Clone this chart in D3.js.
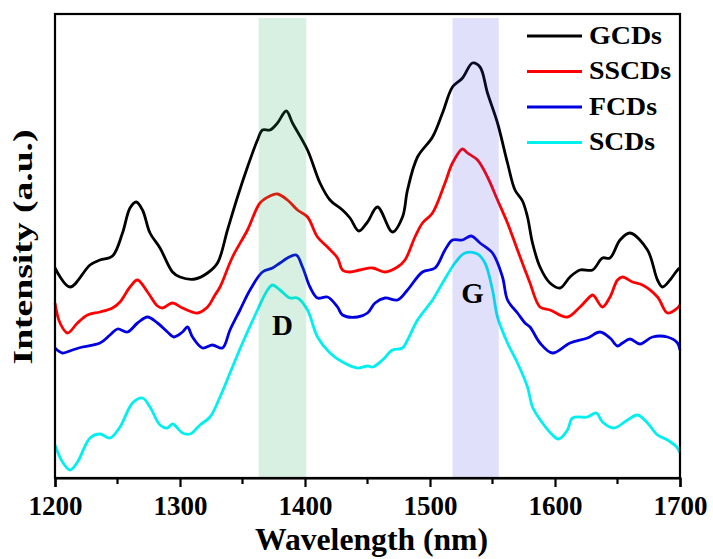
<!DOCTYPE html>
<html>
<head>
<meta charset="utf-8">
<script src="https://cdn.jsdelivr.net/npm/d3@7"></script>
<style>
  html, body { margin: 0; padding: 0; background: #fff; }
  svg { display: block; }
  text { font-family: "Liberation Serif", "Times New Roman", serif; font-weight: bold; fill: #000; }
</style>
</head>
<body>
<svg id="chart" width="713" height="559"></svg>
<script>
// Raman spectra, [wavelength (nm), intensity (a.u., offset per sample)]
const gcds = [
  [1200,210],[1212,191],[1228,213],[1236,218],[1246,222],[1254,245],[1260,270],[1265,276],
  [1270,268],[1276,245],[1284,230],[1294,206],[1300,201],[1312,199],[1322,205],[1330,215],
  [1338,248],[1346,281],[1354,311],[1362,338],[1366,348],[1372,348],[1378,355],[1385,367],
  [1390,355],[1402,328],[1412,295],[1420,278],[1430,268],[1436,260],[1443,247],[1450,256],
  [1458,271],[1470,246],[1478,261],[1482,288],[1490,321],[1502,341],[1510,365],[1518,391],
  [1526,400],[1534,415],[1540,411],[1546,385],[1554,355],[1562,315],[1568,288],[1574,277],
  [1578,261],[1582,235],[1588,211],[1596,195],[1604,190],[1612,201],[1620,208],[1630,208],
  [1638,220],[1644,220],[1652,238],[1660,245],[1674,228],[1682,198],[1686,191],[1692,198],
  [1698,208],[1700,210]
];
const sscds = [
  [1200,175],[1204,155],[1210,145],[1218,155],[1226,163],[1236,166],[1246,170],[1252,176],
  [1260,191],[1266,198],[1274,186],[1282,172],[1286,170],[1294,175],[1302,170],[1314,165],
  [1322,171],[1328,183],[1332,191],[1342,221],[1354,248],[1364,275],[1372,282],[1378,284],
  [1386,278],[1394,268],[1402,261],[1410,241],[1418,231],[1426,220],[1430,208],[1436,206],
  [1444,208],[1454,210],[1464,206],[1474,211],[1480,218],[1488,241],[1494,255],[1502,265],
  [1512,295],[1518,315],[1526,329],[1530,325],[1538,318],[1546,301],[1554,278],[1562,255],
  [1570,228],[1576,208],[1580,195],[1588,171],[1596,168],[1610,161],[1620,171],[1630,183],
  [1632,181],[1638,171],[1644,181],[1650,198],[1654,201],[1662,196],[1670,193],[1682,181],
  [1690,165],[1698,170],[1700,173]
];
const fcds = [
  [1200,130],[1206,125],[1214,128],[1222,131],[1236,135],[1244,143],[1250,149],[1258,146],
  [1266,155],[1274,161],[1282,155],[1290,146],[1295,141],[1302,146],[1306,151],[1310,141],
  [1318,130],[1326,133],[1334,130],[1340,148],[1348,168],[1356,188],[1366,206],[1374,210],
  [1380,215],[1386,220],[1393,223],[1398,211],[1404,191],[1410,180],[1418,181],[1426,171],
  [1430,163],[1442,161],[1450,165],[1456,175],[1464,180],[1474,178],[1482,188],[1494,206],
  [1504,210],[1512,228],[1518,238],[1526,238],[1533,242],[1540,235],[1550,225],[1558,201],
  [1562,178],[1570,165],[1576,155],[1580,151],[1588,135],[1598,125],[1612,135],[1626,140],
  [1636,146],[1644,140],[1650,132],[1654,135],[1660,139],[1668,134],[1678,141],[1690,141],
  [1698,135],[1700,128]
];
const scds = [
  [1200,33],[1206,16],[1212,8],[1218,16],[1228,40],[1236,44],[1244,40],[1252,51],
  [1262,75],[1270,80],[1276,71],[1284,53],[1290,50],[1294,54],[1302,45],[1308,44],
  [1316,53],[1324,61],[1332,81],[1340,105],[1350,135],[1362,168],[1370,188],[1374,193],
  [1380,188],[1388,180],[1394,180],[1402,168],[1410,141],[1420,125],[1430,116],[1442,110],
  [1450,112],[1454,111],[1462,118],[1470,128],[1478,130],[1482,138],[1490,158],[1502,178],
  [1510,195],[1520,215],[1528,225],[1538,224],[1544,215],[1550,188],[1554,161],[1562,135],
  [1570,115],[1578,91],[1582,71],[1590,55],[1598,43],[1603,39],[1610,48],[1614,60],
  [1626,61],[1633,65],[1638,56],[1647,50],[1658,58],[1666,63],[1674,55],[1682,43],
  [1690,38],[1698,30],[1700,25]
];

const seriesNames = ["GCDs", "SSCDs", "FCDs", "SCDs"];
const seriesData = [gcds, sscds, fcds, scds];
const seriesColors = ["#000000", "#ff0000", "#0000e0", "#00f0f0"];

// Highlighted band ranges (nm) and their labels
const bandRanges = [[1363, 1401], [1518, 1555]];
const bandColors = ["rgb(40,170,90)", "rgb(60,60,230)"];
const bandLabels = ["D", "G"];
const bandLabelPos = [[1382, 143], [1534, 175]];

const xTicks = [1200, 1300, 1400, 1500, 1600, 1700];
const xMinorTicks = [1250, 1350, 1450, 1550, 1650];

const svg = d3.select("#chart");
const plotLeft = 55, plotRight = 680, plotTop = 14, plotBottom = 478;

const x = d3.scaleLinear().domain([1200, 1700]).range([plotLeft, plotRight]);
const y = d3.scaleLinear().domain([0, 464]).range([plotBottom, plotTop]);

const line = d3.line()
  .x(d => x(d[0]))
  .y(d => y(d[1]))
  .curve(d3.curveCatmullRom.alpha(0.5));

// Spectra
svg.append("g")
  .selectAll("path")
  .data(seriesData)
  .join("path")
  .attr("d", line)
  .attr("fill", "none")
  .attr("stroke", (d, i) => seriesColors[i])
  .attr("stroke-width", 2.8)
  .attr("stroke-linejoin", "round");

// Translucent D / G bands laid over the spectra
svg.append("g")
  .selectAll("rect")
  .data(bandRanges)
  .join("rect")
  .attr("x", d => x(d[0]))
  .attr("width", d => x(d[1]) - x(d[0]))
  .attr("y", 18)
  .attr("height", plotBottom - 18)
  .attr("fill", (d, i) => bandColors[i])
  .attr("fill-opacity", (d, i) => i === 0 ? 0.18 : 0.16);

svg.append("g")
  .selectAll("text")
  .data(bandLabels)
  .join("text")
  .attr("x", (d, i) => x(bandLabelPos[i][0]))
  .attr("y", (d, i) => y(bandLabelPos[i][1]))
  .attr("text-anchor", "middle")
  .attr("font-size", 29)
  .text(d => d);

// Frame
svg.append("rect")
  .attr("x", plotLeft).attr("y", plotTop)
  .attr("width", plotRight - plotLeft).attr("height", plotBottom - plotTop)
  .attr("fill", "none")
  .attr("stroke", "#000")
  .attr("stroke-width", 2.2);

// Bottom axis
const xAxis = d3.axisBottom(x)
  .tickValues(xTicks)
  .tickSize(9)
  .tickPadding(9)
  .tickFormat(d3.format("d"));
const gx = svg.append("g")
  .attr("transform", `translate(0,${plotBottom})`)
  .call(xAxis);
gx.select(".domain").attr("stroke-width", 2.2);
gx.selectAll(".tick line").attr("stroke-width", 2.2);
gx.selectAll(".tick text")
  .attr("font-size", 27)
  .attr("font-family", "'Liberation Serif', 'Times New Roman', serif")
  .attr("font-weight", "bold")
  .attr("fill", "#000");

svg.append("g")
  .selectAll("line")
  .data(xMinorTicks)
  .join("line")
  .attr("x1", d => x(d)).attr("x2", d => x(d))
  .attr("y1", plotBottom).attr("y2", plotBottom + 6)
  .attr("stroke", "#000")
  .attr("stroke-width", 2.2);

// Axis titles
svg.append("text")
  .attr("x", (plotLeft + plotRight) / 2 + 4)
  .attr("y", 550)
  .attr("text-anchor", "middle")
  .attr("font-size", 31)
  .attr("textLength", 233)
  .attr("lengthAdjust", "spacingAndGlyphs")
  .text("Wavelength (nm)");

svg.append("text")
  .attr("transform", "translate(32,247) rotate(-90)")
  .attr("text-anchor", "middle")
  .attr("font-size", 27)
  .attr("textLength", 235)
  .attr("lengthAdjust", "spacingAndGlyphs")
  .text("Intensity (a.u.)");

// Legend
const legendTop = 36, legendStep = 35.5;
const legendWidths = [73, 82, 68, 66];
const lg = svg.append("g");
lg.selectAll("line")
  .data(seriesNames)
  .join("line")
  .attr("x1", 527).attr("x2", 582)
  .attr("y1", (d, i) => legendTop + i * legendStep)
  .attr("y2", (d, i) => legendTop + i * legendStep)
  .attr("stroke", (d, i) => seriesColors[i])
  .attr("stroke-width", 3);
lg.selectAll("text")
  .data(seriesNames)
  .join("text")
  .attr("x", 589)
  .attr("y", (d, i) => legendTop + 7.5 + i * legendStep)
  .attr("font-size", 25)
  .attr("textLength", (d, i) => legendWidths[i])
  .attr("lengthAdjust", "spacingAndGlyphs")
  .text(d => d);
</script>
</body>
</html>
